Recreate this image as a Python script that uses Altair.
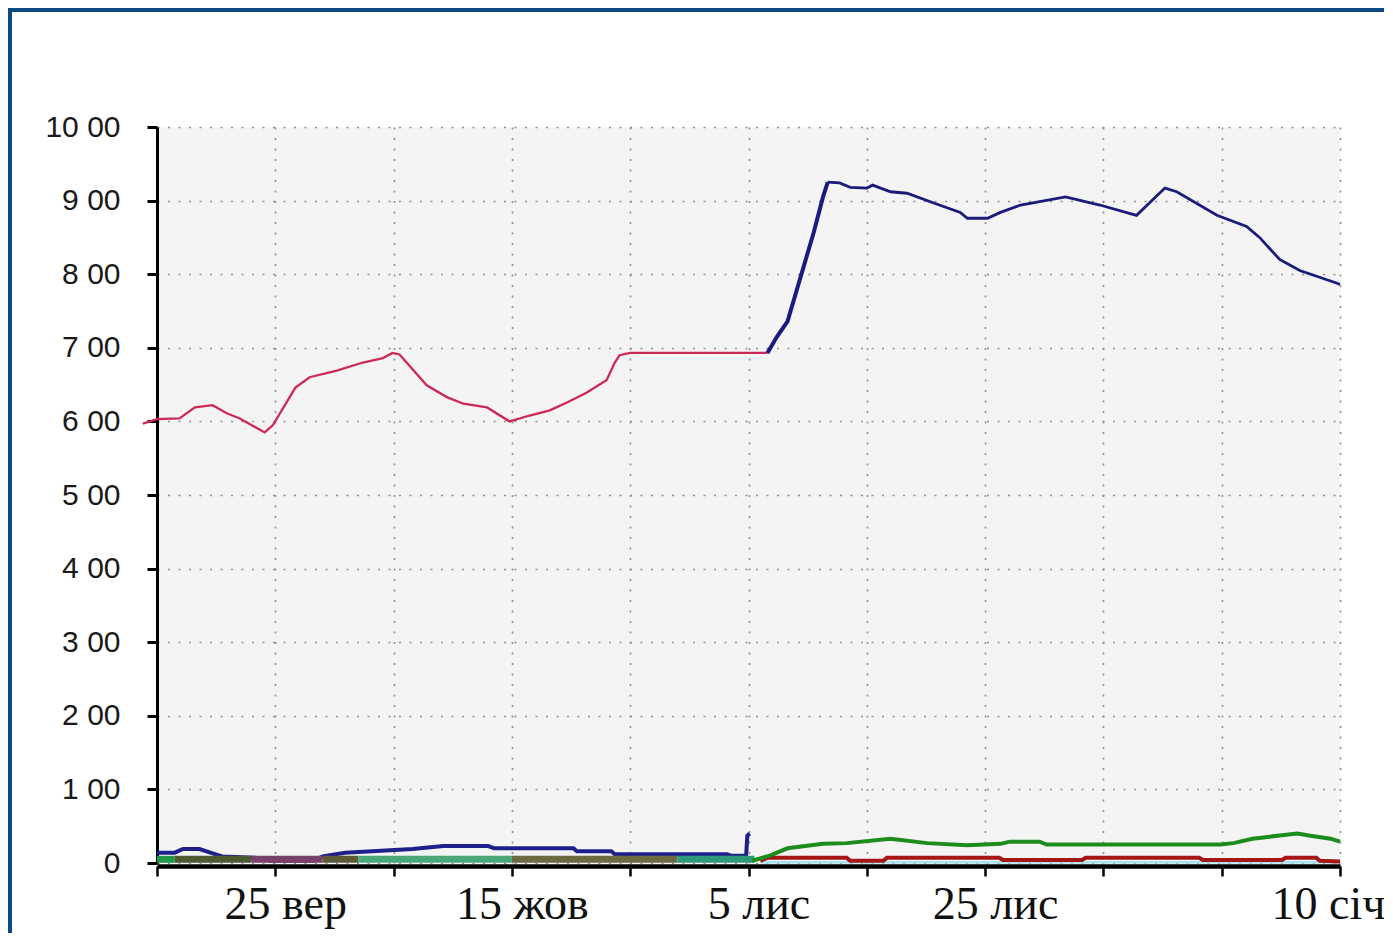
import altair as alt
import pandas as pd

# ---------------- data (days from start of axis, values) ----------------
red_day = [-1.2, 0, 1.9, 3.2, 4.7, 5.9, 7.0, 9.1, 9.8, 11.7, 12.9, 15.2, 17.4, 19.1, 19.9,
           20.5, 22.8, 24.5, 25.9, 27.9, 29.8, 31.5, 33.2, 34.7, 36.3, 38.0, 38.7, 39.1, 40.0, 51.6]
red_val = [5.97, 6.03, 6.04, 6.19, 6.22, 6.11, 6.04, 5.85, 5.95, 6.46, 6.60, 6.69, 6.80, 6.86, 6.93,
           6.91, 6.49, 6.33, 6.24, 6.19, 6.00, 6.08, 6.15, 6.26, 6.39, 6.56, 6.80, 6.90, 6.93, 6.93]

ramp_day = [51.6, 52.4, 53.3, 54.4, 55.5, 56.3, 56.7]
ramp_val = [6.93, 7.15, 7.36, 7.96, 8.56, 9.05, 9.25]

blue_day = [56.7, 57.7, 58.6, 60.0, 60.5, 62.0, 63.4, 65.6,
            67.9, 68.5, 70.2, 71.3, 73.0, 76.8, 79.7, 82.8, 85.2, 86.2, 89.6, 92.1, 93.2, 94.9,
            96.6, 99.7, 100.0]
blue_val = [9.25, 9.24, 9.18, 9.17, 9.21, 9.12, 9.10, 8.97,
            8.84, 8.76, 8.76, 8.84, 8.94, 9.05, 8.94, 8.80, 9.17, 9.12, 8.80, 8.65, 8.50, 8.20,
            8.05, 7.88, 7.86]

navy_low_day = [0, 1.5, 2.2, 3.6, 4.5, 5.5, 8.3, 9.5, 13.2, 14.0, 15.9, 21.6, 24.2, 28.0, 28.5,
                35.2, 35.5, 38.4, 38.7, 48.2, 48.5, 49.8, 49.9, 50.1]
navy_low_val = [0.14, 0.14, 0.19, 0.19, 0.14, 0.09, 0.07, 0.03, 0.03, 0.09, 0.14, 0.19, 0.23, 0.23,
                0.20, 0.20, 0.16, 0.16, 0.12, 0.12, 0.10, 0.10, 0.37, 0.40]

green_low_day = [50.3, 51.8, 53.3, 56.3, 58.3, 62.0, 65.1, 68.5, 71.3, 72.1, 74.6, 75.2, 89.9,
                 91.0, 92.6, 94.7, 96.4, 97.5, 99.2, 100.0]
green_low_val = [0.03, 0.10, 0.20, 0.26, 0.27, 0.33, 0.27, 0.24, 0.26, 0.29, 0.29, 0.25, 0.25,
                 0.27, 0.33, 0.37, 0.40, 0.37, 0.33, 0.29]

red_low_day = [51.0, 51.6, 58.3, 58.6, 61.4, 61.7, 71.2, 71.5, 78.2, 78.5, 88.1, 88.4, 95.1,
               95.4, 98.0, 98.3, 100.0]
red_low_val = [0.03, 0.07, 0.07, 0.03, 0.03, 0.07, 0.07, 0.04, 0.04, 0.07, 0.07, 0.04, 0.04,
               0.07, 0.07, 0.03, 0.02]

cyan_low_day = [51.0, 100.0]
cyan_low_val = [0.01, 0.01]

band_start = [0, 1.5, 8, 14, 17, 30, 44]
band_end = [1.5, 8, 14, 17, 30, 44, 50.5]
band_val = [0.05, 0.05, 0.05, 0.05, 0.05, 0.05, 0.05]
band_colors = ["#1f9a48", "#4d5a34", "#7a416a", "#5e5a37", "#4aa878", "#6c6a44", "#2f9a7a"]

tick_days = [10, 30, 50, 70, 100]
tick_labels = ["25 вер", "15 жов", "5 лис", "25 лис", "10 січ"]

# ---------------- chart ----------------
W, H = 1183, 736
PAD = {"left": 149, "top": 119, "right": 44, "bottom": 70}

x_scale = alt.Scale(domain=[0, 100], nice=False, zero=False)
y_scale = alt.Scale(domain=[0, 10], nice=False)

x_expr = " : ".join(f"datum.value == {d} ? '{l}'" for d, l in zip(tick_days, tick_labels)) + " : ''"

grid_style = dict(grid=True, gridDash=[2, 8.5], gridColor="#8f8f8f", gridWidth=1.6)

x_axis = alt.Axis(values=list(range(0, 101, 10)), labelExpr=x_expr, title=None,
                  domainColor="black", domainWidth=4.5, tickColor="black", tickWidth=2.5,
                  tickSize=10, labelFont="Liberation Serif", labelFontSize=46,
                  labelColor="#111111", labelPadding=6, labelFlush=False, labelOverlap=False,
                  labelOffset={"condition": {"test": "datum.value == 100", "value": -12}, "value": 10},
                  offset=3, **grid_style)
y_axis = alt.Axis(values=list(range(0, 11)),
                  labelExpr="datum.value == 0 ? '0' : datum.value + ' 00'", title=None,
                  domainColor="black", domainWidth=3, tickColor="black", tickWidth=3, tickSize=10,
                  labelFont="Liberation Sans", labelFontSize=30, labelColor="#1a1a1a",
                  labelPadding=27, **grid_style)


def line(days, vals, color, width):
    df = pd.DataFrame({"day": days, "value": vals})
    return alt.Chart(df).mark_line(color=color, strokeWidth=width, interpolate="linear").encode(
        x=alt.X("day:Q", scale=x_scale, axis=x_axis),
        y=alt.Y("value:Q", scale=y_scale, axis=y_axis),
    )


layers = [line(navy_low_day, navy_low_val, "#1f1f8c", 4)]
for s, e, v, c in zip(band_start, band_end, band_val, band_colors):
    layers.append(line([s, e], [v, v], c, 7))
layers += [
    line(cyan_low_day, cyan_low_val, "#a6e2ef", 2.5),
    line(red_low_day, red_low_val, "#a51616", 4),
    line(green_low_day, green_low_val, "#1c8c1c", 4),
    line(red_day, red_val, "#cc2a55", 2.3),
    line(ramp_day, ramp_val, "#1a1a80", 4),
    line(blue_day, blue_val, "#1b1b7a", 2.8),
]

frame_df = pd.DataFrame({"a": [0]})
top_bar = alt.Chart(frame_df).mark_rect(color="#0b4a82").encode(
    x=alt.value(-PAD["left"]), x2=alt.value(W + PAD["right"]),
    y=alt.value(-PAD["top"]), y2=alt.value(-PAD["top"] + 4))
left_bar = alt.Chart(frame_df).mark_rect(color="#0b4a82").encode(
    x=alt.value(-PAD["left"]), x2=alt.value(-PAD["left"] + 4),
    y=alt.value(-PAD["top"]), y2=alt.value(H + PAD["bottom"]))

chart = alt.layer(*layers, top_bar, left_bar).properties(
    width=W, height=H,
    autosize=alt.AutoSizeParams(type="none"),
    padding=PAD,
    background="white",
).configure_view(fill="#f4f4f4", strokeOpacity=0)

chart.save("out.html", embed_options={"renderer": "svg", "actions": False})
